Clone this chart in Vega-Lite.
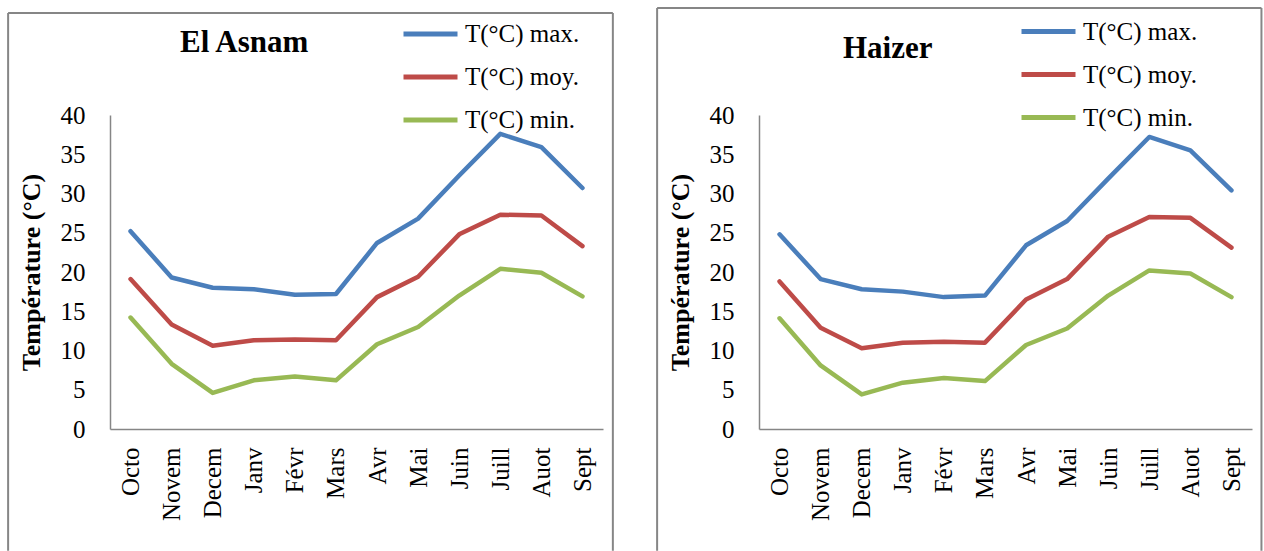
{
  "$schema": "https://vega.github.io/schema/vega-lite/v6.json",
  "padding": {"left": 7, "top": 2, "right": 0, "bottom": 0},
  "spacing": 42,
  "background": "white",
  "config": {
    "view": {"stroke": null},
    "axis": {
      "labelFont": "Liberation Serif", "labelFontSize": 25, "labelColor": "#000000",
      "domainColor": "#868686", "domainWidth": 1.5, "ticks": false, "grid": false,
      "labelFlush": false, "labelOverlap": false,
      "titleFont": "Liberation Serif", "titleFontSize": 26, "titleFontWeight": "bold", "titleColor": "#000000"
    },
    "axisX": {"labelAngle": -90, "labelAlign": "right", "labelBaseline": "middle", "labelPadding": 18},
    "axisY": {"labelPadding": 25, "titlePadding": 16},
    "legend": {
      "symbolType": "stroke", "symbolSize": 2916, "symbolStrokeWidth": 5,
      "labelFont": "Liberation Serif", "labelFontSize": 25, "labelColor": "#000000", "labelOffset": 5, "labelLimit": 0,
      "rowPadding": -10.5, "padding": 0,
      "titleFont": "Liberation Serif", "titleFontSize": 31, "titleFontWeight": "bold", "titleColor": "#000000",
      "titleOrient": "left", "titleAnchor": "start", "titleBaseline": "line-top", "titleLimit": 0
    }
  },
  "datasets": {
    "asnam": [
      {"i": 0, "m": "Octo", "s": "T(°C) max.", "t": 25.2},
      {"i": 1, "m": "Novem", "s": "T(°C) max.", "t": 19.3},
      {"i": 2, "m": "Decem", "s": "T(°C) max.", "t": 18.0},
      {"i": 3, "m": "Janv", "s": "T(°C) max.", "t": 17.8},
      {"i": 4, "m": "Févr", "s": "T(°C) max.", "t": 17.1},
      {"i": 5, "m": "Mars", "s": "T(°C) max.", "t": 17.2},
      {"i": 6, "m": "Avr", "s": "T(°C) max.", "t": 23.7},
      {"i": 7, "m": "Mai", "s": "T(°C) max.", "t": 26.8},
      {"i": 8, "m": "Juin", "s": "T(°C) max.", "t": 32.3},
      {"i": 9, "m": "Juill", "s": "T(°C) max.", "t": 37.6},
      {"i": 10, "m": "Auot", "s": "T(°C) max.", "t": 35.9},
      {"i": 11, "m": "Sept", "s": "T(°C) max.", "t": 30.7},
      {"i": 0, "m": "Octo", "s": "T(°C) moy.", "t": 19.1},
      {"i": 1, "m": "Novem", "s": "T(°C) moy.", "t": 13.3},
      {"i": 2, "m": "Decem", "s": "T(°C) moy.", "t": 10.6},
      {"i": 3, "m": "Janv", "s": "T(°C) moy.", "t": 11.3},
      {"i": 4, "m": "Févr", "s": "T(°C) moy.", "t": 11.4},
      {"i": 5, "m": "Mars", "s": "T(°C) moy.", "t": 11.3},
      {"i": 6, "m": "Avr", "s": "T(°C) moy.", "t": 16.8},
      {"i": 7, "m": "Mai", "s": "T(°C) moy.", "t": 19.4},
      {"i": 8, "m": "Juin", "s": "T(°C) moy.", "t": 24.8},
      {"i": 9, "m": "Juill", "s": "T(°C) moy.", "t": 27.3},
      {"i": 10, "m": "Auot", "s": "T(°C) moy.", "t": 27.2},
      {"i": 11, "m": "Sept", "s": "T(°C) moy.", "t": 23.3},
      {"i": 0, "m": "Octo", "s": "T(°C) min.", "t": 14.2},
      {"i": 1, "m": "Novem", "s": "T(°C) min.", "t": 8.3},
      {"i": 2, "m": "Decem", "s": "T(°C) min.", "t": 4.6},
      {"i": 3, "m": "Janv", "s": "T(°C) min.", "t": 6.2},
      {"i": 4, "m": "Févr", "s": "T(°C) min.", "t": 6.7},
      {"i": 5, "m": "Mars", "s": "T(°C) min.", "t": 6.2},
      {"i": 6, "m": "Avr", "s": "T(°C) min.", "t": 10.8},
      {"i": 7, "m": "Mai", "s": "T(°C) min.", "t": 13.0},
      {"i": 8, "m": "Juin", "s": "T(°C) min.", "t": 17.0},
      {"i": 9, "m": "Juill", "s": "T(°C) min.", "t": 20.4},
      {"i": 10, "m": "Auot", "s": "T(°C) min.", "t": 19.9},
      {"i": 11, "m": "Sept", "s": "T(°C) min.", "t": 16.9}
    ],
    "haizer": [
      {"i": 0, "m": "Octo", "s": "T(°C) max.", "t": 24.8},
      {"i": 1, "m": "Novem", "s": "T(°C) max.", "t": 19.1},
      {"i": 2, "m": "Decem", "s": "T(°C) max.", "t": 17.8},
      {"i": 3, "m": "Janv", "s": "T(°C) max.", "t": 17.5},
      {"i": 4, "m": "Févr", "s": "T(°C) max.", "t": 16.8},
      {"i": 5, "m": "Mars", "s": "T(°C) max.", "t": 17.0},
      {"i": 6, "m": "Avr", "s": "T(°C) max.", "t": 23.4},
      {"i": 7, "m": "Mai", "s": "T(°C) max.", "t": 26.5},
      {"i": 8, "m": "Juin", "s": "T(°C) max.", "t": 31.9},
      {"i": 9, "m": "Juill", "s": "T(°C) max.", "t": 37.2},
      {"i": 10, "m": "Auot", "s": "T(°C) max.", "t": 35.5},
      {"i": 11, "m": "Sept", "s": "T(°C) max.", "t": 30.4},
      {"i": 0, "m": "Octo", "s": "T(°C) moy.", "t": 18.8},
      {"i": 1, "m": "Novem", "s": "T(°C) moy.", "t": 12.9},
      {"i": 2, "m": "Decem", "s": "T(°C) moy.", "t": 10.3},
      {"i": 3, "m": "Janv", "s": "T(°C) moy.", "t": 11.0},
      {"i": 4, "m": "Févr", "s": "T(°C) moy.", "t": 11.1},
      {"i": 5, "m": "Mars", "s": "T(°C) moy.", "t": 11.0},
      {"i": 6, "m": "Avr", "s": "T(°C) moy.", "t": 16.5},
      {"i": 7, "m": "Mai", "s": "T(°C) moy.", "t": 19.1},
      {"i": 8, "m": "Juin", "s": "T(°C) moy.", "t": 24.5},
      {"i": 9, "m": "Juill", "s": "T(°C) moy.", "t": 27.0},
      {"i": 10, "m": "Auot", "s": "T(°C) moy.", "t": 26.9},
      {"i": 11, "m": "Sept", "s": "T(°C) moy.", "t": 23.1},
      {"i": 0, "m": "Octo", "s": "T(°C) min.", "t": 14.1},
      {"i": 1, "m": "Novem", "s": "T(°C) min.", "t": 8.1},
      {"i": 2, "m": "Decem", "s": "T(°C) min.", "t": 4.4},
      {"i": 3, "m": "Janv", "s": "T(°C) min.", "t": 5.9},
      {"i": 4, "m": "Févr", "s": "T(°C) min.", "t": 6.5},
      {"i": 5, "m": "Mars", "s": "T(°C) min.", "t": 6.1},
      {"i": 6, "m": "Avr", "s": "T(°C) min.", "t": 10.7},
      {"i": 7, "m": "Mai", "s": "T(°C) min.", "t": 12.8},
      {"i": 8, "m": "Juin", "s": "T(°C) min.", "t": 17.0},
      {"i": 9, "m": "Juill", "s": "T(°C) min.", "t": 20.2},
      {"i": 10, "m": "Auot", "s": "T(°C) min.", "t": 19.8},
      {"i": 11, "m": "Sept", "s": "T(°C) min.", "t": 16.8}
    ]
  },
  "hconcat": [
    {
      "width": 493,
      "height": 314,
      "layer": [
        {
          "data": {"name": "asnam"},
          "mark": {"type": "line", "strokeWidth": 4.5, "strokeJoin": "round", "strokeCap": "round"},
          "encoding": {
            "x": {"field": "i", "type": "quantitative", "scale": {"domain": [-0.5, 11.5], "nice": false, "zero": false}, "axis": {"values": [0, 1, 2, 3, 4, 5, 6, 7, 8, 9, 10, 11], "labelExpr": "['Octo','Novem','Decem','Janv','Févr','Mars','Avr','Mai','Juin','Juill','Auot','Sept'][datum.value]", "title": null}},
            "y": {"field": "t", "type": "quantitative", "scale": {"domain": [0, 40], "nice": false}, "axis": {"values": [0, 5, 10, 15, 20, 25, 30, 35, 40], "title": "Température (°C)"}},
            "color": {
              "field": "s", "type": "nominal",
              "scale": {"domain": ["T(°C) max.", "T(°C) moy.", "T(°C) min."], "range": ["#4A7EBB", "#BE4B48", "#98B954"]},
              "legend": {"title": "El Asnam", "orient": "none", "legendX": 70, "legendY": -110.6, "titleLineHeight": 79, "titlePadding": 90}
            }
          }
        },
        {
          "data": {"values": [{}]},
          "mark": {"type": "rule", "color": "#868686", "strokeWidth": 2},
          "encoding": {
            "x": {"datum": -2.98, "type": "quantitative", "scale": {"domain": [-0.5, 11.5], "nice": false, "zero": false}, "axis": {"values": [0, 1, 2, 3, 4, 5, 6, 7, 8, 9, 10, 11], "labelExpr": "['Octo','Novem','Decem','Janv','Févr','Mars','Avr','Mai','Juin','Juill','Auot','Sept'][datum.value]", "title": null}},
            "y": {"datum": 52.99, "type": "quantitative", "scale": {"domain": [0, 40], "nice": false}, "axis": {"values": [0, 5, 10, 15, 20, 25, 30, 35, 40], "title": "Température (°C)"}},
            "y2": {"datum": -15.5}
          }
        },
        {
          "data": {"values": [{}]},
          "mark": {"type": "rule", "color": "#868686", "strokeWidth": 2},
          "encoding": {
            "x": {"datum": 11.74, "type": "quantitative", "scale": {"domain": [-0.5, 11.5], "nice": false, "zero": false}, "axis": {"values": [0, 1, 2, 3, 4, 5, 6, 7, 8, 9, 10, 11], "labelExpr": "['Octo','Novem','Decem','Janv','Févr','Mars','Avr','Mai','Juin','Juill','Auot','Sept'][datum.value]", "title": null}},
            "y": {"datum": 52.99, "type": "quantitative", "scale": {"domain": [0, 40], "nice": false}, "axis": {"values": [0, 5, 10, 15, 20, 25, 30, 35, 40], "title": "Température (°C)"}},
            "y2": {"datum": -15.5}
          }
        },
        {
          "data": {"values": [{}]},
          "mark": {"type": "rule", "color": "#868686", "strokeWidth": 2},
          "encoding": {
            "x": {"datum": -2.98, "type": "quantitative", "scale": {"domain": [-0.5, 11.5], "nice": false, "zero": false}, "axis": {"values": [0, 1, 2, 3, 4, 5, 6, 7, 8, 9, 10, 11], "labelExpr": "['Octo','Novem','Decem','Janv','Févr','Mars','Avr','Mai','Juin','Juill','Auot','Sept'][datum.value]", "title": null}},
            "x2": {"datum": 11.74},
            "y": {"datum": 52.99, "type": "quantitative", "scale": {"domain": [0, 40], "nice": false}, "axis": {"values": [0, 5, 10, 15, 20, 25, 30, 35, 40], "title": "Température (°C)"}}
          }
        }
      ]
    },
    {
      "width": 493,
      "height": 314,
      "layer": [
        {
          "data": {"name": "haizer"},
          "mark": {"type": "line", "strokeWidth": 4.5, "strokeJoin": "round", "strokeCap": "round"},
          "encoding": {
            "x": {"field": "i", "type": "quantitative", "scale": {"domain": [-0.5, 11.5], "nice": false, "zero": false}, "axis": {"values": [0, 1, 2, 3, 4, 5, 6, 7, 8, 9, 10, 11], "labelExpr": "['Octo','Novem','Decem','Janv','Févr','Mars','Avr','Mai','Juin','Juill','Auot','Sept'][datum.value]", "title": null}},
            "y": {"field": "t", "type": "quantitative", "scale": {"domain": [0, 40], "nice": false}, "axis": {"values": [0, 5, 10, 15, 20, 25, 30, 35, 40], "title": "Température (°C)"}},
            "color": {
              "field": "s", "type": "nominal",
              "scale": {"domain": ["T(°C) max.", "T(°C) moy.", "T(°C) min."], "range": ["#4A7EBB", "#BE4B48", "#98B954"]},
              "legend": {"title": "Haizer", "orient": "none", "legendX": 84, "legendY": -113, "titleLineHeight": 94, "titlePadding": 86}
            }
          }
        },
        {
          "data": {"values": [{}]},
          "mark": {"type": "rule", "color": "#868686", "strokeWidth": 2},
          "encoding": {
            "x": {"datum": -2.98, "type": "quantitative", "scale": {"domain": [-0.5, 11.5], "nice": false, "zero": false}, "axis": {"values": [0, 1, 2, 3, 4, 5, 6, 7, 8, 9, 10, 11], "labelExpr": "['Octo','Novem','Decem','Janv','Févr','Mars','Avr','Mai','Juin','Juill','Auot','Sept'][datum.value]", "title": null}},
            "y": {"datum": 53.63, "type": "quantitative", "scale": {"domain": [0, 40], "nice": false}, "axis": {"values": [0, 5, 10, 15, 20, 25, 30, 35, 40], "title": "Température (°C)"}},
            "y2": {"datum": -15.5}
          }
        },
        {
          "data": {"values": [{}]},
          "mark": {"type": "rule", "color": "#868686", "strokeWidth": 2},
          "encoding": {
            "x": {"datum": 11.73, "type": "quantitative", "scale": {"domain": [-0.5, 11.5], "nice": false, "zero": false}, "axis": {"values": [0, 1, 2, 3, 4, 5, 6, 7, 8, 9, 10, 11], "labelExpr": "['Octo','Novem','Decem','Janv','Févr','Mars','Avr','Mai','Juin','Juill','Auot','Sept'][datum.value]", "title": null}},
            "y": {"datum": 53.63, "type": "quantitative", "scale": {"domain": [0, 40], "nice": false}, "axis": {"values": [0, 5, 10, 15, 20, 25, 30, 35, 40], "title": "Température (°C)"}},
            "y2": {"datum": -15.5}
          }
        },
        {
          "data": {"values": [{}]},
          "mark": {"type": "rule", "color": "#868686", "strokeWidth": 2},
          "encoding": {
            "x": {"datum": -2.98, "type": "quantitative", "scale": {"domain": [-0.5, 11.5], "nice": false, "zero": false}, "axis": {"values": [0, 1, 2, 3, 4, 5, 6, 7, 8, 9, 10, 11], "labelExpr": "['Octo','Novem','Decem','Janv','Févr','Mars','Avr','Mai','Juin','Juill','Auot','Sept'][datum.value]", "title": null}},
            "x2": {"datum": 11.73},
            "y": {"datum": 53.63, "type": "quantitative", "scale": {"domain": [0, 40], "nice": false}, "axis": {"values": [0, 5, 10, 15, 20, 25, 30, 35, 40], "title": "Température (°C)"}}
          }
        }
      ]
    }
  ],
  "resolve": {"scale": {"color": "independent"}, "legend": {"color": "independent"}}
}
